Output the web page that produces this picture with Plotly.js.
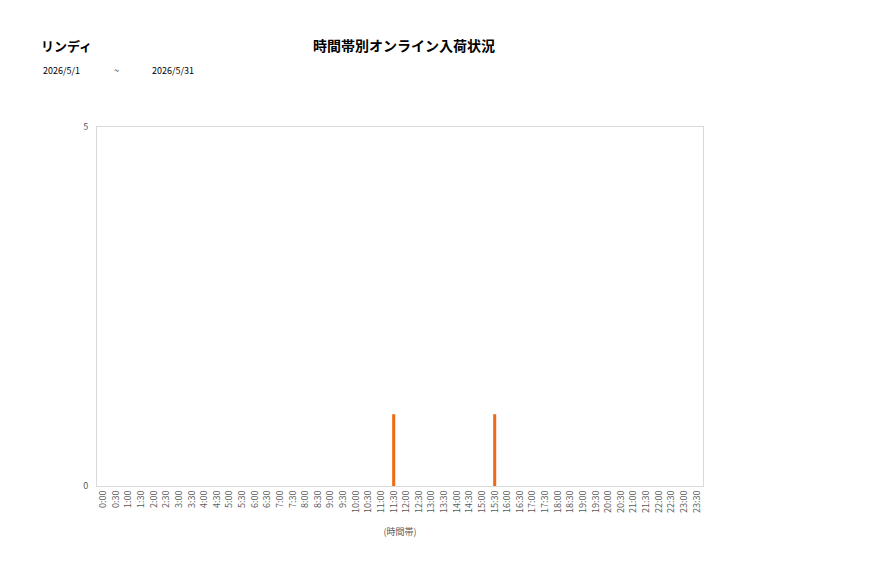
<!DOCTYPE html>
<html>
<head>
<meta charset="utf-8">
<script src="https://cdn.plot.ly/plotly-3.0.1.min.js"></script>
<style>
html,body{margin:0;padding:0;background:#fff;}
#chart{width:877px;height:578px;}
</style>
</head>
<body>
<div id="chart"></div>
<script>
var slots = [];
for (var h = 0; h < 24; h++) {
	slots.push(h + ':00');
	slots.push(h + ':30');
}
// 入荷件数 (11:30 と 15:30 のみ)
var counts = [0,0,0,0,0,0,0,0,0,0,0,0,0,0,0,0,0,0,0,0,0,0,0,1,0,0,0,0,0,0,0,1,0,0,0,0,0,0,0,0,0,0,0,0,0,0,0,0];
var yTicks = [0,5];

var font = '"Noto Sans CJK JP", "Noto Sans", sans-serif';

var trace = {
	type: 'bar',
	x: slots,
	y: counts,
	width: 0.24,
	marker: {color: '#ED6B14'},
	hoverinfo: 'x+y'
};

var layout = {
	width: 877,
	height: 578,
	margin: {l: 97, r: 174, t: 127, b: 92, pad: 0},
	paper_bgcolor: '#fff',
	plot_bgcolor: '#fff',
	font: {family: font, color: '#595959', size: 9},
	showlegend: false,
	xaxis: {
		type: 'category',
		tickangle: -90,
		tickfont: {size: 9, color: '#595959'},
		showgrid: false,
		zeroline: false,
		showline: true,
		linecolor: '#d9d9d9',
		mirror: true,
		ticks: '',
		title: {text: '(時間帯)', font: {size: 9, color: '#595959'}, standoff: 16}
	},
	yaxis: {
		range: [0,5],
		tickvals: yTicks,
		ticktext: yTicks.map(String),
		tickfont: {size: 9, color: '#595959'},
		showgrid: false,
		zeroline: false,
		showline: true,
		linecolor: '#d9d9d9',
		mirror: true,
		ticks: '',
		ticklabelstandoff: 6
	},
	annotations: [
		{text: '<b>リンディ</b>', xref: 'paper', yref: 'paper', x: -0.095, y: 1.228, xanchor: 'left', yanchor: 'middle',
			showarrow: false, font: {size: 13, color: '#000', family: font}},
		{text: '<b>時間帯別オンライン入荷状況</b>', xref: 'paper', yref: 'paper', x: 0.507, y: 1.228, xanchor: 'center', yanchor: 'middle',
			showarrow: false, font: {size: 14, color: '#000', family: font}},
		{text: '2026/5/1', xref: 'paper', yref: 'paper', x: -0.093, y: 1.158, xanchor: 'left', yanchor: 'middle',
			showarrow: false, font: {size: 9, color: '#000', family: font}},
		{text: '~', xref: 'paper', yref: 'paper', x: 0.024, y: 1.158, xanchor: 'left', yanchor: 'middle',
			showarrow: false, font: {size: 9, color: '#000', family: font}},
		{text: '2026/5/31', xref: 'paper', yref: 'paper', x: 0.087, y: 1.158, xanchor: 'left', yanchor: 'middle',
			showarrow: false, font: {size: 9, color: '#000', family: font}}
	]
};

Plotly.newPlot('chart', [trace], layout, {displayModeBar: false});
</script>
</body>
</html>
